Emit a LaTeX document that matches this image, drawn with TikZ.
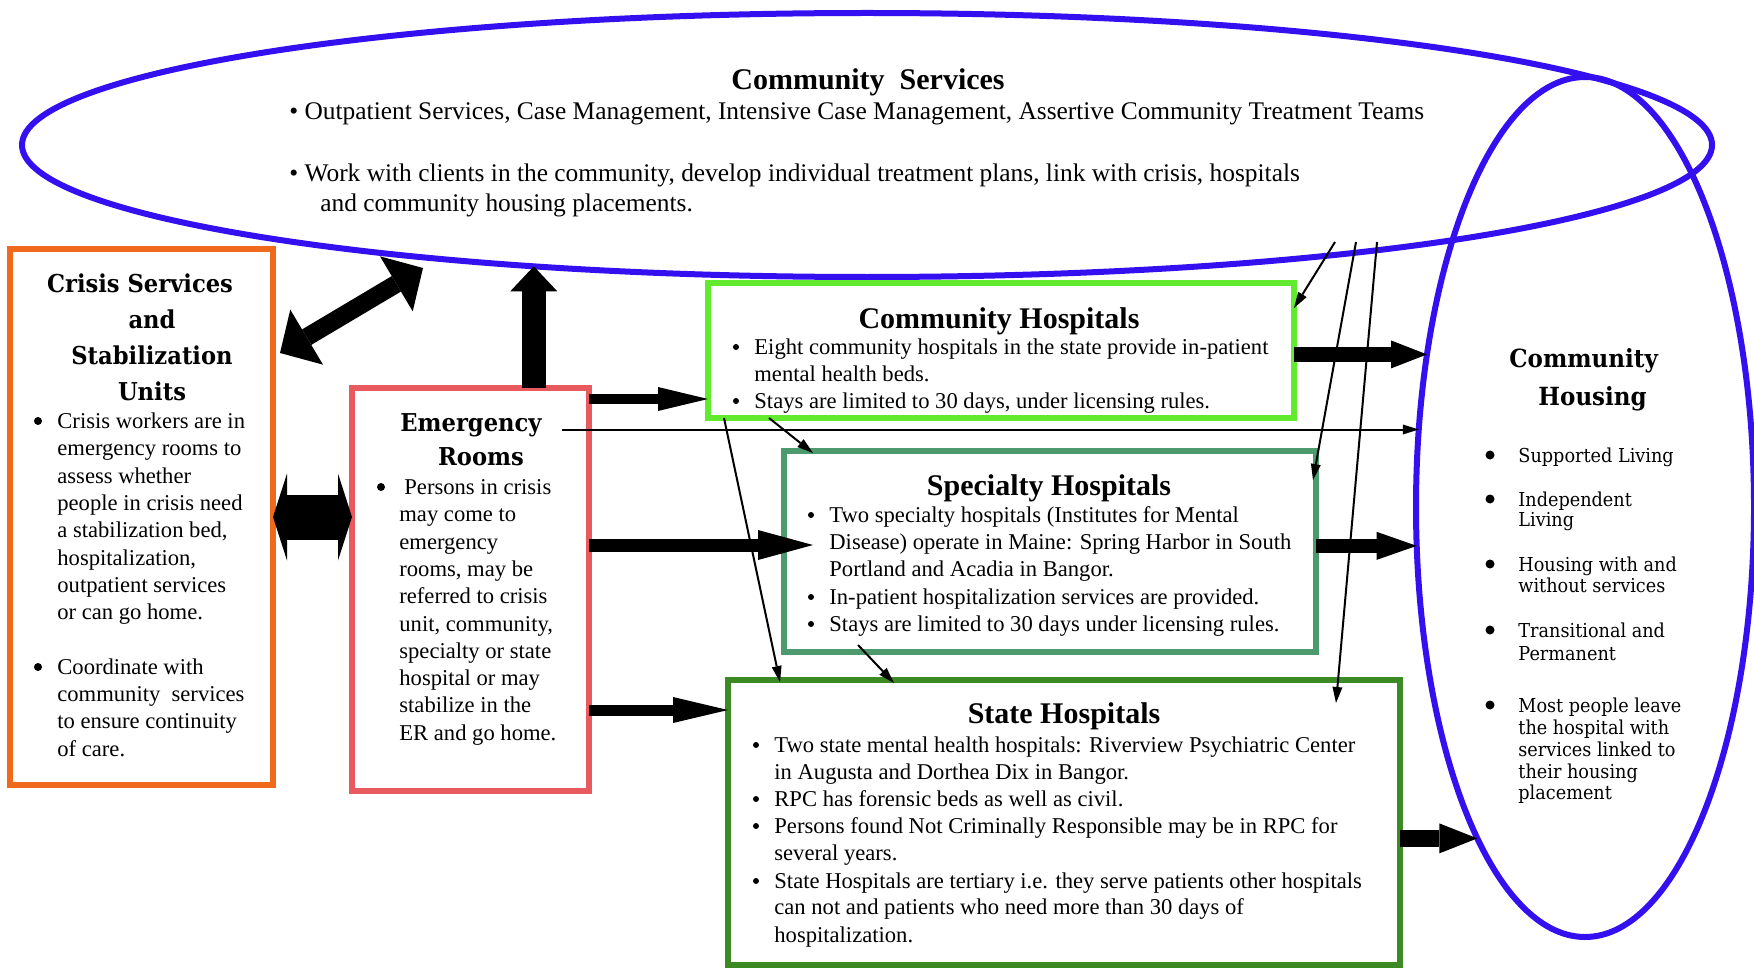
\documentclass[tikz,border=0pt]{standalone}
\usepackage{fontspec}
\setmainfont{Liberation Serif}
\newfontfamily\cent{DejaVu Serif}[FakeStretch=0.92]
\usetikzlibrary{arrows.meta,shapes.geometric,calc}
\definecolor{eblue}{RGB}{52,16,240}
\definecolor{corange}{RGB}{240,106,30}
\definecolor{ered}{RGB}{232,90,94}
\definecolor{chgreen}{RGB}{98,234,46}
\definecolor{shgreen}{RGB}{76,154,110}
\definecolor{stgreen}{RGB}{59,138,35}
\tikzset{
  box/.style={draw=#1, line width=2.75pt, anchor=north west, inner sep=0pt, outer sep=0pt},
  ell/.style={draw=eblue, line width=3pt, ellipse, inner sep=0pt, outer sep=0pt},
  txt/.style={anchor=base west, inner sep=0pt, font=\fontsize{11.3}{13.5}\selectfont},
  cstxt/.style={anchor=base west, inner sep=0pt, font=\fontsize{12.7}{14.5}\selectfont},
  ttl/.style={anchor=base, inner sep=0pt, font=\bfseries\fontsize{15}{18}\selectfont},
  cttl/.style={anchor=base, inner sep=0pt, font=\cent\bfseries\fontsize{12.3}{15}\selectfont},
  httl/.style={anchor=base west, inner sep=0pt, font=\cent\bfseries\fontsize{12.5}{15}\selectfont},
  htxt/.style={anchor=base west, inner sep=0pt, font=\cent\fontsize{9.6}{11}\selectfont},
  thk/.style n args={3}{line width=#1, -{Triangle[length=#2, width=#3, line width=0pt]}},
  dbl/.style n args={3}{line width=#1, {Triangle[length=#2, width=#3, line width=0pt]}-{Triangle[length=#2, width=#3, line width=0pt]}},
  thinarr/.style={line width=1pt, -{Triangle[length=8pt, width=5pt, line width=0pt]}},
}
\begin{document}
\begin{tikzpicture}[x=0.5pt,y=-0.5pt]
\useasboundingbox (0,0) rectangle (1754,968);

% ellipses
\node[ell, minimum width=845pt, minimum height=132pt] (cs) at (867,145) {};
\node[ell, minimum width=169pt, minimum height=430pt] (hous) at (1585,507) {};

% boxes
\node[box=corange, minimum width=131.5pt, minimum height=268pt] (crisis) at (10,249) {};
\node[box=ered, minimum width=118.5pt, minimum height=201.5pt] (er) at (352,388) {};
\node[box=chgreen, minimum width=293pt, minimum height=67.5pt] (ch) at (708,283) {};
\node[box=shgreen, minimum width=266pt, minimum height=100.5pt] (sh) at (784,451) {};
\node[box=stgreen, minimum width=336pt, minimum height=142.5pt] (st) at (728,680) {};

% Community Services text
\node[ttl] (csT) at (868,90) {Community\ \ Services};
\node[cstxt] (cs1) at (289,120) {\textbullet\ Outpatient Services, Case Management, Intensive Case Management, Assertive Community Treatment Teams};
\node[cstxt] (cs2) at (289,182) {\textbullet\ Work with clients in the community, develop individual treatment plans, link with crisis, hospitals};
\node[cstxt] (cs3) at (320,212) {and community housing placements.};

% Crisis text
\node[cttl] (crT1) at (140,292) {Crisis Services};
\node[cttl] (crT2) at (152,328) {and};
\node[cttl] (crT3) at (152,364) {Stabilization};
\node[cttl] (crT4) at (152,400) {Units};
\fill (38,421) circle (2pt);
\fill (38,667) circle (2pt);
\node[txt] (cr1) at (57,428) {Crisis workers are in};
\node[txt] (cr2) at (57,455) {emergency rooms to};
\node[txt] (cr3) at (57,483) {assess whether};
\node[txt] (cr4) at (57,510) {people in crisis need};
\node[txt] (cr5) at (57,537) {a stabilization bed,};
\node[txt] (cr6) at (57,565) {hospitalization,};
\node[txt] (cr7) at (57,592) {outpatient services};
\node[txt] (cr8) at (57,619) {or can go home.};
\node[txt] (cr9) at (57,674) {Coordinate with};
\node[txt] (cr10) at (57,701) {community\ \ services};
\node[txt] (cr11) at (57,728) {to ensure continuity};
\node[txt] (cr12) at (57,756) {of care.};

% Emergency text
\node[cttl] (erT1) at (471,431) {Emergency};
\node[cttl] (erT2) at (481,465) {Rooms};
\fill (381,487) circle (2pt);
\node[txt] (er1) at (404,494) {Persons in crisis};
\node[txt] (er2) at (399,521) {may come to};
\node[txt] (er3) at (399,549) {emergency};
\node[txt] (er4) at (399,576) {rooms, may be};
\node[txt] (er5) at (399,603) {referred to crisis};
\node[txt] (er6) at (399,631) {unit, community,};
\node[txt] (er7) at (399,658) {specialty or state};
\node[txt] (er8) at (399,685) {hospital or may};
\node[txt] (er9) at (399,712) {stabilize in the};
\node[txt] (er10) at (399,740) {ER and go home.};

% Community Hospitals text
\node[ttl] (chT) at (999,328) {Community Hospitals};
\fill (736,347) circle (1.5pt);
\fill (736,401) circle (1.5pt);
\node[txt] (ch1) at (754,354) {Eight community hospitals in the state provide in-patient};
\node[txt] (ch2) at (754,381) {mental health beds.};
\node[txt] (ch3) at (754,408) {Stays are limited to 30 days, under licensing rules.};

% Specialty Hospitals text
\node[ttl] (shT) at (1049,495) {Specialty Hospitals};
\fill (811,515) circle (1.5pt);
\fill (811,597) circle (1.5pt);
\fill (811,624) circle (1.5pt);
\node[txt] (sh1) at (829,522) {Two specialty hospitals (Institutes for Mental};
\node[txt] (sh2) at (829,549) {Disease) operate in Maine: Spring Harbor in South};
\node[txt] (sh3) at (829,576) {Portland and Acadia in Bangor.};
\node[txt] (sh4) at (829,604) {In-patient hospitalization services are provided.};
\node[txt] (sh5) at (829,631) {Stays are limited to 30 days under licensing rules.};

% State Hospitals text
\node[ttl] (stT) at (1064,723) {State Hospitals};
\fill (756,745) circle (1.5pt);
\fill (756,799) circle (1.5pt);
\fill (756,826) circle (1.5pt);
\fill (756,881) circle (1.5pt);
\node[txt] (st1) at (774,752) {Two state mental health hospitals: Riverview Psychiatric Center};
\node[txt] (st2) at (774,779) {in Augusta and Dorthea Dix in Bangor.};
\node[txt] (st3) at (774,806) {RPC has forensic beds as well as civil.};
\node[txt] (st4) at (774,833) {Persons found Not Criminally Responsible may be in RPC for};
\node[txt] (st5) at (774,860) {several years.};
\node[txt] (st6) at (774,888) {State Hospitals are tertiary i.e. they serve patients other hospitals};
\node[txt] (st7) at (774,914) {can not and patients who need more than 30 days of};
\node[txt] (st8) at (774,942) {hospitalization.};

% Community Housing text
\node[httl] (hT1) at (1509,367) {Community};
\node[httl] (hT2) at (1538,405) {Housing};
\fill (1490,455) circle (2.25pt);
\fill (1490,499) circle (2.25pt);
\fill (1490,564) circle (2.25pt);
\fill (1490,630) circle (2.25pt);
\fill (1490,705) circle (2.25pt);
\node[htxt] (h1) at (1518,462) {Supported Living};
\node[htxt] (h2) at (1518,506) {Independent};
\node[htxt] (h3) at (1518,526) {Living};
\node[htxt] (h4) at (1518,571) {Housing with and};
\node[htxt] (h5) at (1518,592) {without services};
\node[htxt] (h6) at (1518,637) {Transitional and};
\node[htxt] (h7) at (1518,660) {Permanent};
\node[htxt] (h8) at (1518,712) {Most people leave};
\node[htxt] (h9) at (1518,734) {the hospital with};
\node[htxt] (h10) at (1518,756) {services linked to};
\node[htxt] (h11) at (1518,778) {their housing};
\node[htxt] (h12) at (1518,799) {placement};

% block arrows
\draw[dbl={9pt}{15.5pt}{32pt}] ($(crisis.north east)+(7,104)$) -- ($(cs.center)+(-444,123)$);
\draw[dbl={22.5pt}{7pt}{43.5pt}] (crisis.east |- 0,517) -- (er.west |- 0,517);
\draw[thk={12pt}{12.5pt}{23.5pt}] (er.north -| cs.200) -- (cs.200);
\draw[thk={5pt}{25pt}{12pt}] (er.east |- 0,399) -- (ch.west |- 0,399);
\draw[thk={6.5pt}{27.5pt}{15pt}] (er.east |- 0,545) -- ($(sh.west |- 0,545)+(29,0)$);
\draw[thk={5.5pt}{27.5pt}{13pt}] (er.east |- 0,710) -- (st.west |- 0,710);
\draw[thk={7.5pt}{18pt}{14pt}] (ch.east |- hous.136) -- (hous.136);
\draw[thk={7pt}{20pt}{14pt}] (sh.east |- hous.193) -- (hous.193);
\draw[thk={8.5pt}{19pt}{15pt}] (st.east |- hous.252.6) -- (hous.252.6);

% thin arrows
\draw[thinarr] ($(er.east |- hous.155)+(-27,0)$) -- (hous.155);
\draw[thinarr] ($(cs.center)+(468,97)$) -- ($(ch.north east)+(0,25)$);
\draw[thinarr] ($(cs.center)+(489,97)$) -- ($(sh.north east)+(-3,29)$);
\draw[thinarr] ($(cs.center)+(510,97)$) -- ($(st.north east)+(-64,23)$);
\draw[thinarr] ($(ch.south west)+(16,0)$) -- ($(st.north west)+(52,2)$);
\draw[thinarr] ($(ch.south west)+(61,0)$) -- ($(sh.north west)+(29,2)$);
\draw[thinarr] ($(sh.south west)+(74,-7)$) -- ($(st.north west)+(166,3)$);
\end{tikzpicture}
\end{document}
